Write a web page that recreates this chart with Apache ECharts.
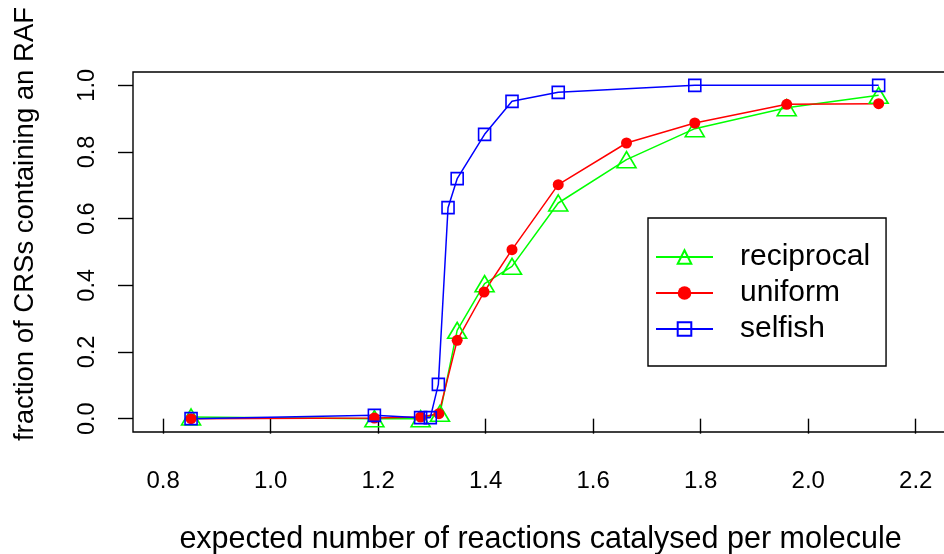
<!DOCTYPE html>
<html>
<head>
<meta charset="utf-8">
<script src="https://cdn.jsdelivr.net/npm/echarts@6/dist/echarts.min.js"></script>
<style>html,body{margin:0;padding:0;background:#fff}#c{width:944px;height:554px}</style>
</head>
<body>
<div id="c"></div>
<script>
var xTicks = [0.8, 1.0, 1.2, 1.4, 1.6, 1.8, 2.0, 2.2];
var yTicks = [0.0, 0.2, 0.4, 0.6, 0.8, 1.0];

var reciprocalX = [0.852, 1.193, 1.279, 1.315, 1.347, 1.398, 1.449, 1.535, 1.662, 1.789, 1.960, 2.131];
var reciprocalY = [0.005, 0.0, 0.0, 0.016, 0.265, 0.405, 0.457, 0.647, 0.777, 0.870, 0.933, 0.970];

var uniformX = [0.852, 1.193, 1.279, 1.313, 1.347, 1.397, 1.449, 1.535, 1.662, 1.789, 1.960, 2.131];
var uniformY = [0.0, 0.002, 0.005, 0.015, 0.235, 0.380, 0.507, 0.702, 0.827, 0.887, 0.943, 0.945];

var selfishX = [0.852, 1.193, 1.279, 1.297, 1.312, 1.330, 1.347, 1.398, 1.449, 1.535, 1.789, 2.131];
var selfishY = [0.0, 0.010, 0.003, 0.003, 0.103, 0.633, 0.720, 0.853, 0.952, 0.979, 1.0, 1.0];

function pairs(xs, ys) { return xs.map(function (x, i) { return [x, ys[i]]; }); }

var FONT = 'Liberation Sans, Arial, sans-serif';
var chart = echarts.init(document.getElementById('c'), null, {renderer: 'canvas'});
chart.setOption({
  animation: false,
  backgroundColor: '#fff',
  grid: {left: 133, top: 72, bottom: 122, right: -4, show: true, borderColor: '#000', borderWidth: 1.4,
    backgroundColor: 'transparent', containLabel: false, outerBoundsMode: 'none'},
  xAxis: {
    type: 'value', min: 0.744, max: 2.26,
    name: 'expected number of reactions catalysed per molecule',
    nameLocation: 'middle', nameGap: 92,
    nameTextStyle: {fontFamily: FONT, fontSize: 30.5, color: '#000'},
    axisLine: {show: false},
    splitLine: {show: false},
    axisTick: {show: true, inside: false, length: 15, lineStyle: {color: '#000', width: 1.4}, customValues: xTicks},
    axisLabel: {fontFamily: FONT, fontSize: 24, color: '#000', margin: 37, customValues: xTicks,
      formatter: function (v) { return v.toFixed(1); }}
  },
  yAxis: {
    type: 'value', min: -0.04, max: 1.04,
    name: 'fraction of CRSs containing an RAF',
    nameLocation: 'middle', nameGap: 94, nameRotate: 90,
    nameTextStyle: {fontFamily: FONT, fontSize: 27.5, color: '#000', padding: [0, 0, 0, 56]},
    axisLine: {show: false},
    splitLine: {show: false},
    axisTick: {show: true, inside: false, length: 15, lineStyle: {color: '#000', width: 1.4}, customValues: yTicks},
    axisLabel: {fontFamily: FONT, fontSize: 23.5, color: '#000', margin: 33, rotate: 90, customValues: yTicks,
      formatter: function (v) { return v.toFixed(1); }}
  },
  legend: {
    orient: 'vertical', left: 648, top: 218,
    padding: [24, 16, 22, 7],
    itemWidth: 57, itemHeight: 17, itemGap: 6,
    borderColor: '#000', borderWidth: 1.4, backgroundColor: '#fff',
    textStyle: {fontFamily: FONT, fontSize: 30, color: '#000', padding: [0, 0, 0, 22]},
    data: ['reciprocal', 'uniform', 'selfish']
  },
  series: [
    {name: 'reciprocal', type: 'line', data: pairs(reciprocalX, reciprocalY),
      symbol: 'triangle', symbolSize: [19, 16], showAllSymbol: true,
      lineStyle: {color: '#00ff00', width: 1.5},
      itemStyle: {color: 'rgba(0,0,0,0)', borderColor: '#00ff00', borderWidth: 1.6}},
    {name: 'uniform', type: 'line', data: pairs(uniformX, uniformY),
      symbol: 'circle', symbolSize: 11, showAllSymbol: true,
      lineStyle: {color: '#ff0000', width: 1.5},
      itemStyle: {color: '#ff0000', borderColor: '#ff0000', borderWidth: 0}},
    {name: 'selfish', type: 'line', data: pairs(selfishX, selfishY),
      symbol: 'rect', symbolSize: 12, showAllSymbol: true,
      lineStyle: {color: '#0000ff', width: 1.5},
      itemStyle: {color: 'rgba(0,0,0,0)', borderColor: '#0000ff', borderWidth: 1.6}}
  ]
});
</script>
</body>
</html>
